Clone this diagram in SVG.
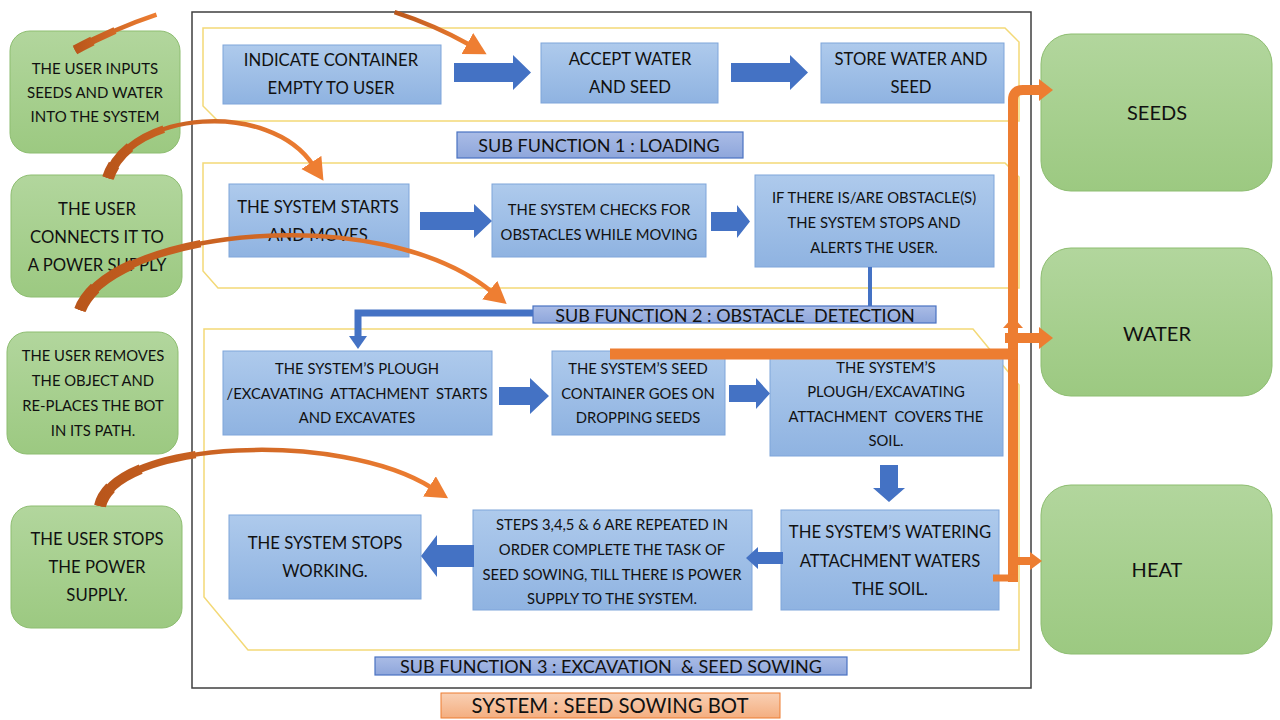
<svg xmlns="http://www.w3.org/2000/svg" width="1280" height="720" viewBox="0 0 1280 720">
<defs>
<linearGradient id="gBlue" x1="0" y1="0" x2="0" y2="1"><stop offset="0" stop-color="#AECAEC"/><stop offset="1" stop-color="#8FB3E1"/></linearGradient>
<linearGradient id="gGreen" x1="0" y1="0" x2="0" y2="1"><stop offset="0" stop-color="#B2D69D"/><stop offset="1" stop-color="#9CC981"/></linearGradient>
<linearGradient id="gLabel" x1="0" y1="0" x2="0" y2="1"><stop offset="0" stop-color="#AABCE6"/><stop offset="1" stop-color="#8EA6DB"/></linearGradient>
<linearGradient id="gTitle" x1="0" y1="0" x2="0" y2="1"><stop offset="0" stop-color="#F9D0B4"/><stop offset="1" stop-color="#F4AE80"/></linearGradient>
<linearGradient id="gCurve" x1="0" y1="0" x2="1" y2="0"><stop offset="0" stop-color="#B9561B"/><stop offset="1" stop-color="#EE7E32"/></linearGradient>
<marker id="ah" markerUnits="userSpaceOnUse" markerWidth="30" markerHeight="30" refX="3" refY="12" orient="auto" viewBox="0 0 30 30"><path d="M0,0 L22,12 L0,24 Z" fill="#EE7E32"/></marker>
<style>
.sys{fill:#fff;stroke:#3F3F3F;stroke-width:1.5}
.panel{fill:none;stroke:#F3D977;stroke-width:1.5}
.box{fill:url(#gBlue);stroke:#7EA5DA;stroke-width:1}
.gbox{fill:url(#gGreen);stroke:#8DBD70;stroke-width:1}
.lbl{fill:url(#gLabel);stroke:#4A72C2;stroke-width:1.2}
.t{font-family:Lato,"Liberation Sans",sans-serif;fill:#111;text-anchor:middle;dominant-baseline:central;white-space:pre}
.big{font-size:16.7px}
.mid{font-size:14.8px}
.lb{font-size:18px}
.barr{fill:#4472C4}
.orange{fill:none;stroke:#ED7D31}
.curve{fill:none;stroke:url(#gCurve);stroke-linecap:butt}
.c1{stroke-width:4.5}
.c2{stroke-width:7.5;stroke-dasharray:32 200}
.c3{stroke-width:10;stroke-dasharray:16 200}
.c4{stroke-width:12;stroke-dasharray:6 200}
</style>
</defs>
<rect width="1280" height="720" fill="#fff"/>
<rect class="sys" x="192" y="12" width="839" height="676"/>
<g id="panels">
<path class="panel" d="M203,28 H1005 L1019,42 V121 H218 L203,106 Z"/>
<path class="panel" d="M203,163 H1005 L1019,177 V288 H218 L203,271 Z"/>
<path class="panel" d="M204,329 H973 L1019,385 V650 H248 L204,597 Z"/>
</g>
<g id="user1"><rect class="gbox" x="10" y="31" width="170" height="122" rx="20"/>
<text class="t" x="95" y="68" font-size="15">THE USER INPUTS</text><text class="t" x="95" y="92" font-size="15">SEEDS AND WATER</text><text class="t" x="95" y="116" font-size="15">INTO THE SYSTEM</text></g>
<g id="user2"><rect class="gbox" x="11" y="175" width="171" height="122" rx="20"/>
<text class="t big" x="97" y="209">THE USER</text><text class="t big" x="97" y="237">CONNECTS IT TO</text><text class="t big" x="97" y="265">A POWER SUPPLY</text></g>
<g id="user3"><rect class="gbox" x="7" y="332" width="171" height="122" rx="20"/>
<text class="t mid" x="93" y="355">THE USER REMOVES</text><text class="t mid" x="93" y="380">THE OBJECT AND</text><text class="t mid" x="93" y="405">RE-PLACES THE BOT</text><text class="t mid" x="93" y="430">IN ITS PATH.</text></g>
<g id="user4"><rect class="gbox" x="11" y="506" width="171" height="122" rx="20"/>
<text class="t big" x="97" y="539">THE USER STOPS</text><text class="t big" x="97" y="567">THE POWER</text><text class="t big" x="97" y="595">SUPPLY.</text></g>
<g id="seeds"><rect class="gbox" x="1041" y="34" width="231" height="157" rx="30"/><text class="t" x="1157" y="112" font-size="20">SEEDS</text></g>
<g id="water"><rect class="gbox" x="1041" y="248" width="231" height="148" rx="30"/><text class="t" x="1157" y="333" font-size="20">WATER</text></g>
<g id="heat"><rect class="gbox" x="1041" y="485" width="231" height="169" rx="30"/><text class="t" x="1157" y="569" font-size="20">HEAT</text></g>
<g id="b1"><rect class="box" x="223" y="45" width="218" height="59"/><text class="t big" x="331" y="60">INDICATE CONTAINER</text><text class="t big" x="331" y="88">EMPTY TO USER</text></g>
<g id="b2"><rect class="box" x="541" y="43" width="177" height="60"/><text class="t big" x="630" y="59">ACCEPT WATER</text><text class="t big" x="630" y="87">AND SEED</text></g>
<g id="b3"><rect class="box" x="821" y="43" width="183" height="60"/><text class="t big" x="911" y="59">STORE WATER AND</text><text class="t big" x="911" y="87">SEED</text></g>
<g id="b4"><rect class="box" x="229" y="184" width="180" height="73"/><text class="t big" x="318" y="207">THE SYSTEM STARTS</text><text class="t big" x="318" y="235">AND MOVES</text></g>
<g id="b5"><rect class="box" x="492" y="184" width="214" height="73"/><text class="t mid" x="599" y="209">THE SYSTEM CHECKS FOR</text><text class="t mid" x="599" y="234">OBSTACLES WHILE MOVING</text></g>
<g id="b6"><rect class="box" x="755" y="175" width="239" height="92"/><text class="t mid" x="874" y="197">IF THERE IS/ARE OBSTACLE(S)</text><text class="t mid" x="874" y="222">THE SYSTEM STOPS AND</text><text class="t mid" x="874" y="247">ALERTS THE USER.</text></g>
<g id="b7"><rect class="box" x="223" y="351" width="269" height="84"/><text class="t mid" x="357" y="368">THE SYSTEM’S PLOUGH</text><text class="t mid" x="357" y="393" xml:space="preserve">/EXCAVATING  ATTACHMENT  STARTS</text><text class="t mid" x="357" y="417">AND EXCAVATES</text></g>
<g id="b8"><rect class="box" x="552" y="351" width="173" height="84"/><text class="t mid" x="638" y="368">THE SYSTEM’S SEED</text><text class="t mid" x="638" y="393">CONTAINER GOES ON</text><text class="t mid" x="638" y="417">DROPPING SEEDS</text></g>
<g id="b9"><rect class="box" x="770" y="355" width="233" height="101"/><text class="t mid" x="886" y="367">THE SYSTEM’S</text><text class="t mid" x="886" y="391">PLOUGH/EXCAVATING</text><text class="t mid" x="886" y="416" xml:space="preserve">ATTACHMENT  COVERS THE</text><text class="t mid" x="886" y="440">SOIL.</text></g>
<g id="b10"><rect class="box" x="781" y="510" width="218" height="100"/><text class="t big" x="890" y="532">THE SYSTEM’S WATERING</text><text class="t big" x="890" y="561">ATTACHMENT WATERS</text><text class="t big" x="890" y="589">THE SOIL.</text></g>
<g id="b11"><rect class="box" x="473" y="510" width="279" height="100"/><text class="t mid" x="612" y="524">STEPS 3,4,5 &amp; 6 ARE REPEATED IN</text><text class="t mid" x="612" y="549">ORDER COMPLETE THE TASK OF</text><text class="t mid" x="612" y="574">SEED SOWING, TILL THERE IS POWER</text><text class="t mid" x="612" y="598">SUPPLY TO THE SYSTEM.</text></g>
<g id="b12"><rect class="box" x="229" y="515" width="192" height="84"/><text class="t big" x="325" y="543">THE SYSTEM STOPS</text><text class="t big" x="325" y="571">WORKING.</text></g>
<g id="connectors">
<polygon class="barr" points="454,63 513,63 513,55 531,72.5 513,90 513,82 454,82"/>
<polygon class="barr" points="731,63 790,63 790,55 808,72.5 790,90 790,82 731,82"/>
<polygon class="barr" points="420,212 474,212 474,204 492,221 474,238 474,230 420,230"/>
<polygon class="barr" points="711,212 737,212 737,205 750,221.5 737,238 737,231 711,231"/>
<polygon class="barr" points="499,387 530,387 530,378 549,396 530,414 530,405 499,405"/>
<polygon class="barr" points="729,385 756,385 756,378 770,393.5 756,409 756,402 729,402"/>
<polygon class="barr" points="880,465 898,465 898,488 905,488 889,502 873,488 880,488"/>
<polygon class="barr" points="783,552 758,552 758,547 746,558 758,569 758,564 783,564"/>
<polygon class="barr" points="474,545 437,545 437,535 421,556 437,577 437,567 474,567"/>
<path d="M870,267 V310" fill="none" stroke="#4472C4" stroke-width="4"/>
<path d="M872,313 H358 V338" fill="none" stroke="#4472C4" stroke-width="7"/>
<polygon class="barr" points="349,336 367,336 358,349"/>
</g>
<g id="labels">
<rect class="lbl" x="457" y="132" width="286" height="26"/><text class="t lb" x="599" y="145">SUB FUNCTION 1 : LOADING</text>
<rect class="lbl" x="533" y="306" width="403" height="17"/><text class="t lb" x="735" y="315" xml:space="preserve">SUB FUNCTION 2 : OBSTACLE  DETECTION</text>
<rect class="lbl" x="375" y="657" width="472" height="18"/><text class="t lb" x="611" y="666" xml:space="preserve">SUB FUNCTION 3 : EXCAVATION  &amp; SEED SOWING</text>
<rect x="441" y="693" width="339" height="25" fill="url(#gTitle)" stroke="#ED7D31" stroke-width="1"/><text class="t" x="610" y="705" font-size="20.3">SYSTEM : SEED SOWING BOT</text>
</g>
<g id="orange-connectors">
<path class="orange" d="M1013,582 V100 Q1013,90 1023,90 H1041" stroke-width="10"/>
<polygon points="1039,79 1053,90 1039,101" fill="#ED7D31"/>
<polygon points="1003,328 1013,317 1023,328" fill="#ED7D31"/>
<path class="orange" d="M1005,338 H1041" stroke-width="10"/>
<polygon points="1039,327 1053,338 1039,349" fill="#ED7D31"/>
<path class="orange" d="M610,354 H1018" stroke-width="11"/>
<path class="orange" d="M993,578 H1017" stroke-width="7"/>
<path class="orange" d="M1013,561 H1031" stroke-width="8"/>
<polygon points="1030,552 1042,561 1030,570" fill="#ED7D31"/>
</g>
<g id="curves">
<path class="curve c1" d="M75,50 Q116,28 156.5,14.6" pathLength="100"/>
<path class="curve" d="M75,50 Q116,28 156.5,14.6" pathLength="100" style="stroke-width:7;stroke-dasharray:50 200"/>
<path class="curve" d="M75,50 Q116,28 156.5,14.6" pathLength="100" style="stroke-width:9.5;stroke-dasharray:22 200"/>
<path class="curve" d="M394.6,12.2 Q433.6,24.8 470,45" stroke-width="4.5" marker-end="url(#ah)"/>
<path class="curve c1" d="M108,178 C130,110 270,100 313,165" pathLength="100" marker-end="url(#ah)"/>
<path class="curve c2" d="M108,178 C130,110 270,100 313,165" pathLength="100"/>
<path class="curve c3" d="M108,178 C130,110 270,100 313,165" pathLength="100"/>
<path class="curve c4" d="M108,178 C130,110 270,100 313,165" pathLength="100"/>
<path class="curve c1" d="M80,310 C110,230 380,200 492,292" pathLength="100" marker-end="url(#ah)"/>
<path class="curve c2" d="M80,310 C110,230 380,200 492,292" pathLength="100"/>
<path class="curve c3" d="M80,310 C110,230 380,200 492,292" pathLength="100"/>
<path class="curve c4" d="M80,310 C110,230 380,200 492,292" pathLength="100"/>
<path class="curve c1" d="M100,506 C115,440 340,430 432,488" pathLength="100" marker-end="url(#ah)"/>
<path class="curve c2" d="M100,506 C115,440 340,430 432,488" pathLength="100"/>
<path class="curve c3" d="M100,506 C115,440 340,430 432,488" pathLength="100"/>
<path class="curve c4" d="M100,506 C115,440 340,430 432,488" pathLength="100"/>
</g>
</svg>
